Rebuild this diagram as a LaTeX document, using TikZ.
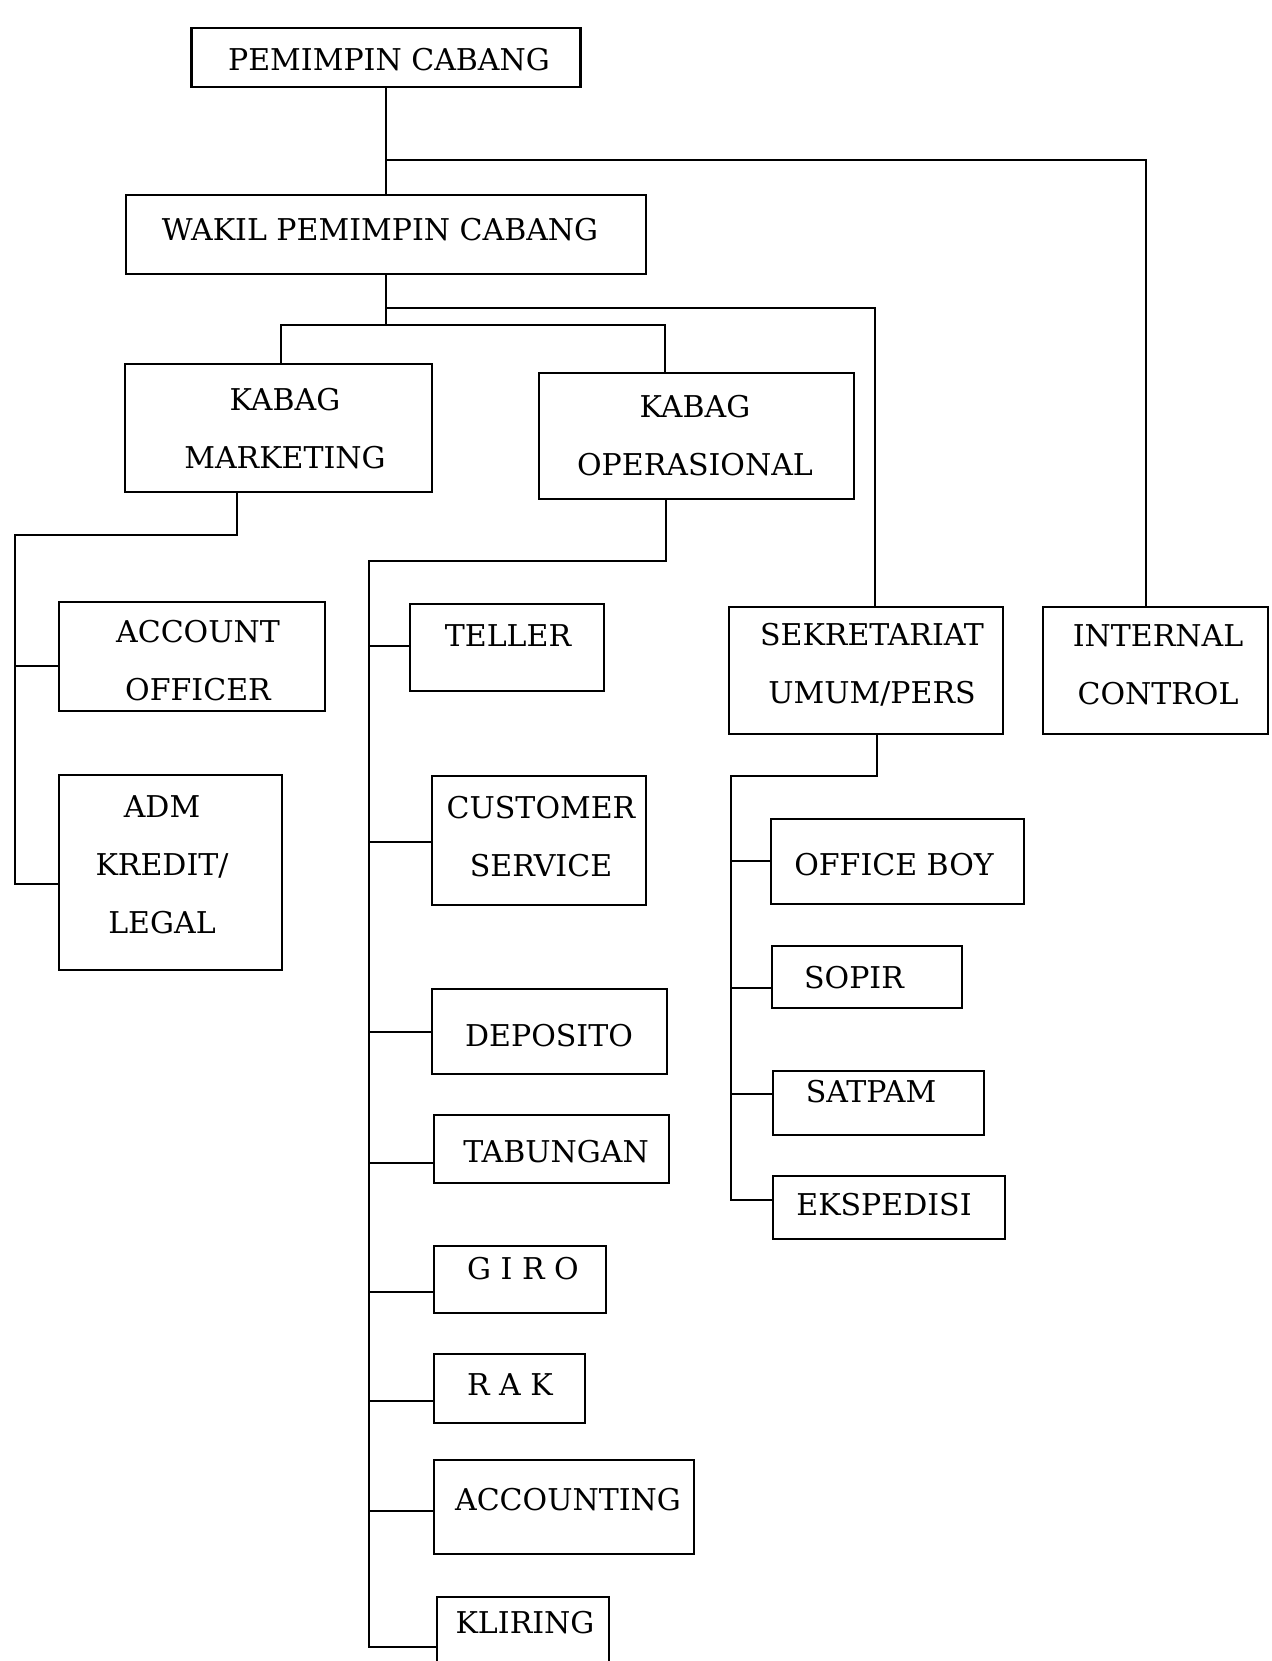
\documentclass[tikz,border=0pt]{standalone}
\usepackage{fontspec}
\setmainfont{DejaVu Serif}
\begin{document}
\begin{tikzpicture}[x=1pt,y=-1pt,
  box/.style={draw, line width=2.2pt, inner sep=0pt},
  lbl/.style={font=\fontsize{30}{58}\selectfont, inner sep=0pt, align=center},
  one/.style={text height=22pt, text depth=0pt},
  wire/.style={line width=2.2pt}]
\useasboundingbox (0,0) rectangle (1271,1661);
\fill[white] (0,0) rectangle (1271,1661);
\clip (0,0) rectangle (1271,1661);

% boxes
\node[box, minimum width=389pt, minimum height=59pt] (pc) at (386,57.5) {};
\node[box, minimum width=520pt, minimum height=79pt] (wpc) at (386,234.5) {};
\node[box, minimum width=307pt, minimum height=128pt] (km) at (278.5,428) {};
\node[box, minimum width=315pt, minimum height=126pt] (ko) at (696.5,436) {};
\node[box, minimum width=266pt, minimum height=109pt] (ao) at (192,656.5) {};
\node[box, minimum width=223pt, minimum height=195pt] (adm) at (170.5,872.5) {};
\node[box, minimum width=194pt, minimum height=87pt] (tel) at (507,647.5) {};
\node[box, minimum width=214pt, minimum height=129pt] (cs) at (539,840.5) {};
\node[box, minimum width=235pt, minimum height=85pt] (dep) at (549.5,1031.5) {};
\node[box, minimum width=235pt, minimum height=68pt] (tab) at (551.5,1149) {};
\node[box, minimum width=172pt, minimum height=67pt] (giro) at (520,1279.5) {};
\node[box, minimum width=151pt, minimum height=69pt] (rak) at (509.5,1388.5) {};
\node[box, minimum width=260pt, minimum height=94pt] (acc) at (564,1507) {};
\node[box, minimum width=172pt, minimum height=102pt] (kli) at (523,1648) {};
\node[box, minimum width=274pt, minimum height=127pt] (sek) at (866,670.5) {};
\node[box, minimum width=225pt, minimum height=127pt] (ic) at (1155.5,670.5) {};
\node[box, minimum width=253pt, minimum height=85pt] (ob) at (897.5,861.5) {};
\node[box, minimum width=190pt, minimum height=62pt] (sop) at (867,977) {};
\node[box, minimum width=211pt, minimum height=64pt] (sat) at (878.5,1103) {};
\node[box, minimum width=232pt, minimum height=63pt] (eks) at (889,1207.5) {};

% texts
\node[lbl, one] (t-pc) at (389,60) {PEMIMPIN CABANG};
\node[lbl, one] (t-wpc) at (380,230) {WAKIL PEMIMPIN CABANG};
\node[lbl] (t-km) at (285,428.5) {KABAG\\MARKETING};
\node[lbl] (t-ko) at (695,436) {KABAG\\OPERASIONAL};
\node[lbl] (t-ao) at (198,661) {ACCOUNT\\OFFICER};
\node[lbl] (t-adm) at (162,865) {ADM\\KREDIT/\\LEGAL};
\node[lbl, one] (t-tel) at (508,635) {TELLER};
\node[lbl] (t-cs) at (541,837) {CUSTOMER\\SERVICE};
\node[lbl, one] (t-dep) at (549,1035) {DEPOSITO};
\node[lbl, one] (t-tab) at (556,1151) {TABUNGAN};
\node[lbl, one] (t-giro) at (523,1268) {G I R O};
\node[lbl, one] (t-rak) at (510,1384) {R A K};
\node[lbl, one] (t-acc) at (568,1499) {ACCOUNTING};
\node[lbl, one] (t-kli) at (525,1622) {KLIRING};
\node[lbl] (t-sek) at (872,665) {SEKRETARIAT\\UMUM/PERS};
\node[lbl] (t-ic) at (1158,665) {INTERNAL\\CONTROL};
\node[lbl, one] (t-ob) at (894,864) {OFFICE BOY};
\node[lbl, one] (t-sop) at (854,977) {SOPIR};
\node[lbl, one] (t-sat) at (871,1091) {SATPAM};
\node[lbl, one] (t-eks) at (884,1204) {EKSPEDISI};

% helper coordinates
\coordinate (y-ic) at (0,160);
\coordinate (x-ic) at (1146,0);
\coordinate (y-sek) at (0,308);
\coordinate (x-sek) at (875,0);
\coordinate (y-k) at (0,325);
\coordinate (x-km) at (281,0);
\coordinate (x-ko) at (665,0);
\coordinate (x-kmd) at (237,0);
\coordinate (x-ms) at (15,0);
\coordinate (y-ms) at (0,535);
\coordinate (c-ao) at (0,666);
\coordinate (c-adm) at (0,884);
\coordinate (x-kod) at (666,0);
\coordinate (x-os) at (369,0);
\coordinate (y-os) at (0,561);
\coordinate (c-tel) at (0,646);
\coordinate (c-cs) at (0,842);
\coordinate (c-dep) at (0,1032);
\coordinate (c-tab) at (0,1163);
\coordinate (c-giro) at (0,1292);
\coordinate (c-rak) at (0,1401);
\coordinate (c-acc) at (0,1511);
\coordinate (c-kli) at (0,1647);
\coordinate (x-sekd) at (877,0);
\coordinate (x-ss) at (731,0);
\coordinate (y-ss) at (0,776);
\coordinate (c-ob) at (0,861);
\coordinate (c-sop) at (0,988);
\coordinate (c-sat) at (0,1094);
\coordinate (c-eks) at (0,1200);

% connectors
\draw[wire] (pc.south) -- (pc.south |- wpc.north);
\draw[wire] (pc.south |- y-ic) -| (x-ic |- ic.north);
\draw[wire] (wpc.south) -- (wpc.south |- y-k);
\draw[wire] (x-km |- km.north) |- (x-ko |- y-k) -- (x-ko |- ko.north);
\draw[wire] (wpc.south |- y-sek) -| (x-sek |- sek.north);

\draw[wire] (x-kmd |- km.south) |- (x-ms |- y-ms) |- (ao.west |- c-adm);
\draw[wire] (x-ms |- c-adm) -- (adm.west |- c-adm);
\draw[wire] (x-ms |- c-ao) -- (ao.west |- c-ao);

\draw[wire] (x-kod |- ko.south) |- (x-os |- y-os) -- (x-os |- c-kli) -- (kli.west |- c-kli);
\draw[wire] (x-os |- c-tel) -- (tel.west |- c-tel);
\draw[wire] (x-os |- c-cs) -- (cs.west |- c-cs);
\draw[wire] (x-os |- c-dep) -- (dep.west |- c-dep);
\draw[wire] (x-os |- c-tab) -- (tab.west |- c-tab);
\draw[wire] (x-os |- c-giro) -- (giro.west |- c-giro);
\draw[wire] (x-os |- c-rak) -- (rak.west |- c-rak);
\draw[wire] (x-os |- c-acc) -- (acc.west |- c-acc);

\draw[wire] (x-sekd |- sek.south) |- (x-ss |- y-ss) -- (x-ss |- c-eks) -- (eks.west |- c-eks);
\draw[wire] (x-ss |- c-ob) -- (ob.west |- c-ob);
\draw[wire] (x-ss |- c-sop) -- (sop.west |- c-sop);
\draw[wire] (x-ss |- c-sat) -- (sat.west |- c-sat);
\end{tikzpicture}
\end{document}
